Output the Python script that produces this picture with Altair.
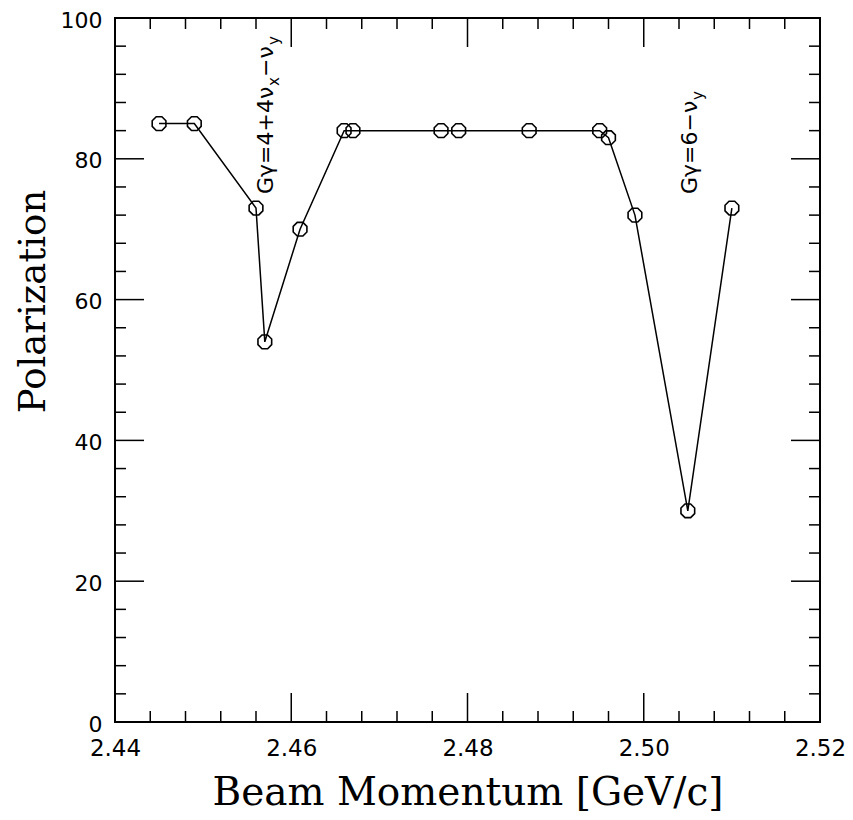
import altair as alt
import pandas as pd

# ---- data ----
momentum = [2.445, 2.449, 2.456, 2.457, 2.461, 2.466, 2.467, 2.477, 2.479,
            2.487, 2.495, 2.496, 2.499, 2.505, 2.510]
polarization = [85, 85, 73, 54, 70, 84, 84, 84, 84, 84, 84, 83, 72, 30, 73]

x_major = [2.44, 2.46, 2.48, 2.50, 2.52]
x_minor = [2.444, 2.448, 2.452, 2.456, 2.464, 2.468, 2.472, 2.476,
           2.484, 2.488, 2.492, 2.496, 2.504, 2.508, 2.512, 2.516]
y_major = [0, 20, 40, 60, 80, 100]
y_minor = [4, 8, 12, 16, 24, 28, 32, 36, 44, 48, 52, 56, 64, 68, 72, 76,
           84, 88, 92, 96]

# annotation pieces: main text, subscript, main text, subscript
ann_text = ["Gγ=4+4ν", "x", "−ν", "y", "Gγ=6−ν", "y"]
ann_x = [2.4579, 2.4579, 2.4579, 2.4579, 2.5060, 2.5060]
ann_y = [75, 75, 75, 75, 75, 75]

# ---- styles ----
W, H = 705, 704
MAJ, MIN = 29, 11
ann_dx = [0, 108, 117, 149, 0, 94]
ann_dy = [0, 6, 0, 6, 0, 6]
ann_size = [22, 15, 22, 15, 22, 15]

xscale = alt.Scale(domain=[2.44, 2.52], nice=False, zero=False)
yscale = alt.Scale(domain=[0, 100], nice=False, zero=True)

xaxis = alt.Axis(values=x_major, format=".2f", ticks=False, domain=False, grid=False,
                 labelFont="DejaVu Sans", labelFontSize=23, labelColor="black",
                 labelPadding=15, labelFlush=False,
                 title="Beam Momentum [GeV/c]", titleFont="DejaVu Serif",
                 titleFontSize=39, titleFontWeight="normal", titleColor="black",
                 titleX=W / 2, titleY=82, titleAlign="center",
                 titleBaseline="alphabetic")
yaxis = alt.Axis(values=y_major, format="d", ticks=False, domain=False, grid=False,
                 labelFont="DejaVu Sans", labelFontSize=22, labelColor="black",
                 labelPadding=13, labelFlush=False, labelOffset=2,
                 title="Polarization", titleFont="DejaVu Serif",
                 titleFontSize=37, titleFontWeight="normal", titleColor="black",
                 titleAngle=270, titleX=-71, titleY=283, titleAlign="center",
                 titleBaseline="alphabetic")

df = pd.DataFrame({"p": momentum, "pol": polarization})
X = alt.X("p:Q", scale=xscale, axis=xaxis)
Y = alt.Y("pol:Q", scale=yscale, axis=yaxis)

octagon = ("M0.383,-0.924L0.924,-0.383L0.924,0.383L0.383,0.924L-0.383,0.924"
           "L-0.924,0.383L-0.924,-0.383L-0.383,-0.924Z")

line = alt.Chart(df).mark_line(color="black", strokeWidth=1.5).encode(x=X, y=Y)
pts = alt.Chart(df).mark_point(shape=octagon, size=220, filled=False,
                               stroke="black", strokeWidth=1.6, opacity=1).encode(x=X, y=Y)

layers = [line, pts]

def xticks(vals, length):
    d = pd.DataFrame({"p": vals})
    xe = alt.X("p:Q", scale=xscale, axis=xaxis)
    b = alt.Chart(d).mark_rule(color="black", strokeWidth=1.5).encode(
        x=xe, y=alt.value(H), y2=alt.value(H - length))
    t = alt.Chart(d).mark_rule(color="black", strokeWidth=1.5).encode(
        x=xe, y=alt.value(0), y2=alt.value(length))
    return [b, t]

def yticks(vals, length):
    d = pd.DataFrame({"pol": vals})
    ye = alt.Y("pol:Q", scale=yscale, axis=yaxis)
    l = alt.Chart(d).mark_rule(color="black", strokeWidth=1.5).encode(
        y=ye, x=alt.value(0), x2=alt.value(length))
    r = alt.Chart(d).mark_rule(color="black", strokeWidth=1.5).encode(
        y=ye, x=alt.value(W), x2=alt.value(W - length))
    return [l, r]

layers += xticks(x_major, MAJ) + xticks(x_minor, MIN)
layers += yticks(y_major, MAJ) + yticks(y_minor, MIN)

for i, txt in enumerate(ann_text):
    d = pd.DataFrame({"p": [ann_x[i]], "pol": [ann_y[i]], "t": [txt]})
    layers.append(
        alt.Chart(d).mark_text(angle=270, align="left", baseline="alphabetic",
                               font="DejaVu Sans", fontSize=ann_size[i],
                               dx=ann_dx[i], dy=ann_dy[i], color="black").encode(
            x=alt.X("p:Q", scale=xscale, axis=xaxis),
            y=alt.Y("pol:Q", scale=yscale, axis=yaxis),
            text="t:N")
    )

chart = alt.layer(*layers).properties(
    width=W, height=H,
    autosize=alt.AutoSizeParams(type="none"),
    padding={"left": 107, "top": 10, "right": 25, "bottom": 90},
    background="white",
).configure_view(stroke="black", strokeWidth=2)

chart.save("out.html", embed_options={"renderer": "svg", "actions": False})
